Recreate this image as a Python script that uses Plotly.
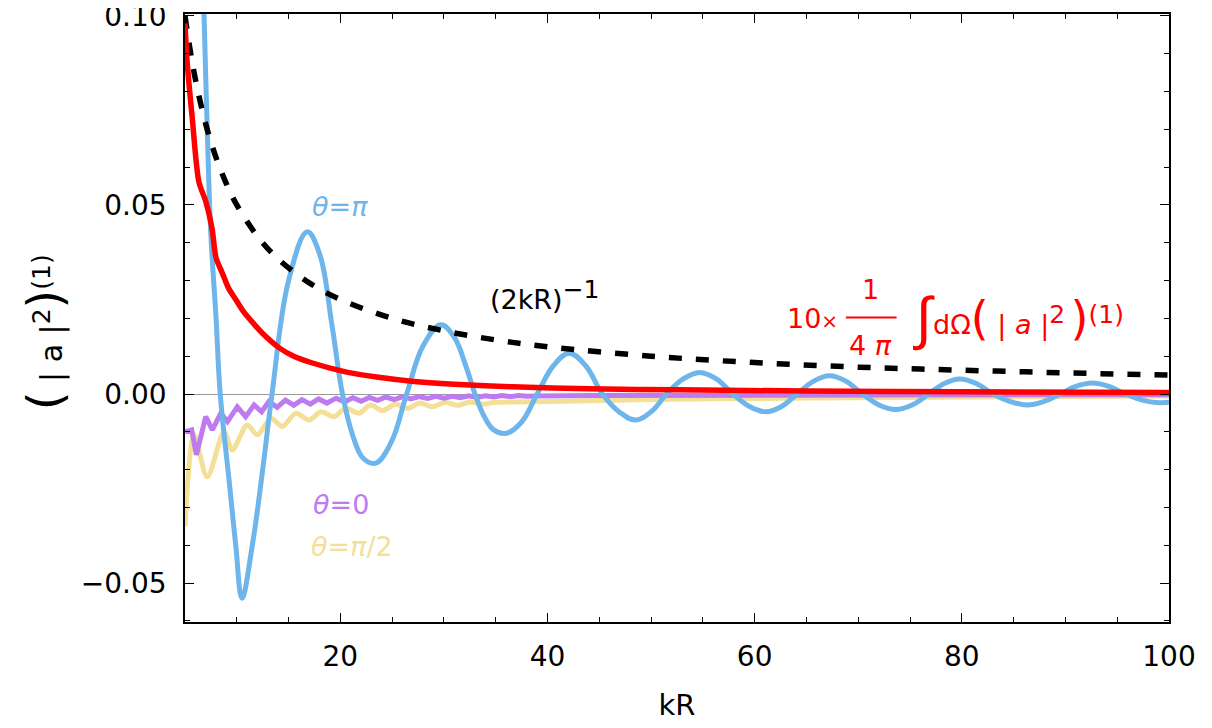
import plotly.graph_objects as go

# ---- data ----
kr_blue = [5.0, 5.5, 6.0, 6.4, 6.84, 7.15, 7.48, 8.0, 8.4, 9.3, 9.9, 10.5, 11.5, 12.5, 13.4,
           15.0, 16.8, 18.0, 19.2, 20.2, 21.2, 22.2, 23.4, 24.9, 26.4, 28.0, 29.7, 31.0, 32.1, 33.0, 33.9,
           34.8, 36.0, 37.5, 39.0, 40.6, 42.1, 43.7, 45.3, 46.9, 48.5, 50.0, 51.5, 53.1, 54.7,
           56.3, 57.9, 59.5, 61.1, 62.6, 64.1, 65.7, 67.2, 68.8, 70.4, 72.0, 73.6, 75.2, 76.8,
           78.3, 79.8, 81.4, 83.0, 84.7, 86.3, 87.9, 89.5, 91.0, 92.6, 94.2, 95.8, 97.4, 99.0, 100.0]
th_pi = [0.38, 0.29, 0.21, 0.145, 0.100, 0.070, 0.043, 0.020, 0.0, -0.024, -0.040, -0.054, -0.040, -0.020, 0.0,
         0.0300, 0.0429, 0.0370, 0.0180, 0.0, -0.0110, -0.0170, -0.0183, -0.0128, 0.0, 0.0128, 0.0183, 0.0150,
         0.0075, 0.0, -0.0060, -0.0095, -0.0104, -0.0074, 0.0, 0.0076, 0.0108, 0.0074, 0.0, -0.0047, -0.0069,
         -0.0047, 0.0, 0.0040, 0.0057,
         0.0040, 0.0, -0.0033, -0.0047, -0.0033, 0.0, 0.0034, 0.0048, 0.0034, 0.0, -0.0029, -0.0041, -0.0029, 0.0,
         0.0028, 0.0040, 0.0028, 0.0, -0.0020, -0.0029, -0.0020, 0.0, 0.0020, 0.0029, 0.0020, 0.0, -0.0016, -0.0023, -0.0022]

kr_red = [5.0, 5.2, 5.7, 6.35, 7.0, 7.6, 8.0, 8.6, 9.2, 9.9, 10.6, 11.5, 12.5, 14.1, 15.5, 17.3,
          20.6, 23.5, 26.9, 31.0, 36.6, 44.0, 52.7, 65.0, 80.0, 100.0]
integ = [0.098, 0.088, 0.073, 0.056, 0.051, 0.044, 0.036, 0.032, 0.028, 0.025, 0.022, 0.019, 0.016, 0.0122,
         0.0100, 0.0082, 0.0058, 0.0045, 0.0034, 0.0026, 0.0019, 0.0014, 0.0011, 0.0008, 0.0006, 0.0004]

kr_ref = [5, 5.5, 6, 7, 8, 9, 10, 12, 14, 17, 20, 25, 30, 35, 40, 50, 60, 70, 80, 90, 100]
inv_2kr = [0.1, 0.0909, 0.0833, 0.0714, 0.0625, 0.0556, 0.05, 0.0417, 0.0357, 0.0294, 0.025, 0.02,
           0.0167, 0.0143, 0.0125, 0.01, 0.0083, 0.0071, 0.0063, 0.0056, 0.005]

kr_zero = [5.0, 5.65, 6.1, 7.0, 7.64, 8.45, 9.1, 10.05, 10.86, 11.67, 12.4, 13.1, 13.9, 14.7, 15.5, 16.3,
           17.1, 17.9, 18.7, 19.6, 20.4, 21.2, 22.0, 22.8, 23.6, 24.4, 25.2, 26.0, 26.8, 27.6, 28.4,
           29.2, 30.0, 30.8, 31.6, 32.4, 33.2, 34.0, 34.8, 35.6, 36.4, 37.2, 38.0, 39.0, 45.0, 55.0,
           70.0, 85.0, 100.0]
th_0 = [-0.0100, -0.0095, -0.0161, -0.0060, -0.0095, -0.0051, -0.0073, -0.0034, -0.0060, -0.0029, -0.0047,
        -0.0020, -0.0035, -0.0016, -0.0030, -0.0015, -0.0027, -0.0013, -0.0024, -0.0011, -0.0021, -0.0010,
        -0.0019, -0.0009, -0.0017, -0.0008, -0.0015, -0.0007, -0.0013, -0.0007, -0.0012, -0.0006, -0.0011,
        -0.0006, -0.0010, -0.0005, -0.0009, -0.0005, -0.0008, -0.0004, -0.0007, -0.0004, -0.0006, -0.0005,
        -0.0004, -0.0003, -0.0003, -0.0002, -0.0002]

kr_half = [5.0, 5.87, 7.15, 8.77, 9.57, 11.0, 12.0, 13.3, 14.4, 15.7, 17.0, 18.1, 19.4, 20.5, 21.8, 22.9,
           24.1, 25.3, 26.5, 27.7, 28.9, 30.1, 31.3, 32.5, 33.7, 35.0, 40.0, 45.0, 52.0, 60.0, 70.0, 85.0, 100.0]
th_half = [-0.035, -0.0108, -0.0219, -0.0100, -0.0148, -0.0082, -0.0108, -0.0064, -0.0086, -0.0051, -0.0069,
           -0.0047, -0.0060, -0.0038, -0.0051, -0.0029, -0.0044, -0.0027, -0.0038, -0.0024, -0.0034, -0.0022,
           -0.0030, -0.0021, -0.0027, -0.0022, -0.0020, -0.0017, -0.0014, -0.0012, -0.0010, -0.0007, -0.0005]

x_ticks = [20, 40, 60, 80, 100]
y_ticks = [-0.05, 0.0, 0.05, 0.10]
y_ticktext = ["\u22120.05", "0.00", "0.05", "0.10"]

BLUE = "#6DB5EA"
PURPLE = "#BE7AF1"
YELLOW = "#F4DF97"
RED = "#FF0000"
FONT = "DejaVu Sans, Liberation Sans, sans-serif"

fig = go.Figure()
fig.add_trace(go.Scatter(x=kr_half, y=th_half, mode="lines",
                         line=dict(color=YELLOW, width=5, shape="spline", smoothing=0.8)))
fig.add_trace(go.Scatter(x=kr_zero, y=th_0, mode="lines",
                         line=dict(color=PURPLE, width=5)))
fig.add_trace(go.Scatter(x=kr_blue, y=th_pi, mode="lines",
                         line=dict(color=BLUE, width=5, shape="spline", smoothing=1.1)))
fig.add_trace(go.Scatter(x=kr_ref, y=inv_2kr, mode="lines",
                         line=dict(color="black", width=5.5, dash="13px,14px", shape="spline")))
fig.add_trace(go.Scatter(x=kr_red, y=integ, mode="lines",
                         line=dict(color=RED, width=5.5, shape="spline", smoothing=0.8)))

ann = []
def A(x, y, text, color, size=27, family=FONT, **kw):
    d = dict(x=x, y=y, xref="x", yref="y", text=text, showarrow=False,
             font=dict(family=family, size=size, color=color))
    d.update(kw)
    ann.append(d)

SUP = "<sup><span style='font-size:25px'>%s</span></sup>"
BIGP = "<span style='font-size:46px'>%s</span>"

A(20.0, 0.0495, "<i>θ</i>=<i>π</i>", BLUE)
A(20.1, -0.0292, "<i>θ</i>=0", PURPLE)
A(21.1, -0.0403, "<i>θ</i>=<i>π</i>/2", YELLOW)
A(34.3, 0.0262, "(2kR)" + SUP % "\u22121", "black", xanchor="left")
A(68.2, 0.0200, "10<span style='font-size:20px'>\u00d7</span>", RED, xanchor="right")
A(71.2, 0.0276, "1", RED)
A(71.2, 0.0128, "4 <i>π</i>", RED)
A(76.3, 0.0201, "\u222b", RED, size=58, family="Liberation Sans, DejaVu Sans")
A(77.0, 0.0201, "dΩ" + BIGP % "(" + "\u00a0|\u00a0<i>a</i>\u00a0|" + SUP % "2" + "\u2009" + BIGP % ")" + SUP % "(1)",
  RED, xanchor="left")

ann.append(dict(x=-0.142, y=0.477, xref="paper", yref="paper", textangle=-90, showarrow=False,
                xanchor="center", yanchor="middle",
                text="<span style='font-size:48px'>(</span> | a |" + "<sup><span style='font-size:25px'>2</span></sup>"
                     + "<span style='font-size:48px'>)</span>" + "<sup><span style='font-size:25px'>(1)</span></sup>",
                font=dict(family=FONT, size=30, color="black")))

fig.update_layout(
    width=1212, height=728,
    margin=dict(l=177, r=51, t=6, b=114),
    paper_bgcolor="white", plot_bgcolor="white",
    showlegend=False,
    annotations=ann,
    shapes=[dict(type="line", xref="x", yref="y", x0=68.8, x1=73.7, y0=0.0202, y1=0.0202,
                 line=dict(color=RED, width=2))],
    font=dict(family=FONT, size=28, color="black"),
    xaxis=dict(range=[5, 100], tickvals=x_ticks, ticks="inside", ticklen=9, tickwidth=1.2,
               tickcolor="black", showline=True, linecolor="black", linewidth=1.5, mirror="ticks",
               showgrid=False, zeroline=False, layer="above traces", automargin=False,
               ticklabeloverflow="allow",
               minor=dict(dtick=5, tick0=0, ticks="inside", ticklen=5, tickwidth=1, tickcolor="black"),
               tickfont=dict(family=FONT, size=28), ticklabelstandoff=9,
               title=dict(text="kR", font=dict(family=FONT, size=29), standoff=22)),
    yaxis=dict(range=[-0.0603, 0.1005], tickvals=y_ticks, ticktext=y_ticktext, ticks="inside",
               ticklen=9, tickwidth=1.2, tickcolor="black", showline=True, linecolor="black",
               linewidth=1.5, mirror="ticks", showgrid=False, zeroline=True, zerolinecolor="#9a9a9a",
               zerolinewidth=1, layer="above traces", automargin=False, ticklabeloverflow="allow",
               minor=dict(dtick=0.01, tick0=0, ticks="inside", ticklen=5, tickwidth=1, tickcolor="black"),
               tickfont=dict(family=FONT, size=28), ticklabelstandoff=11),
)

fig.write_html("out.html")
